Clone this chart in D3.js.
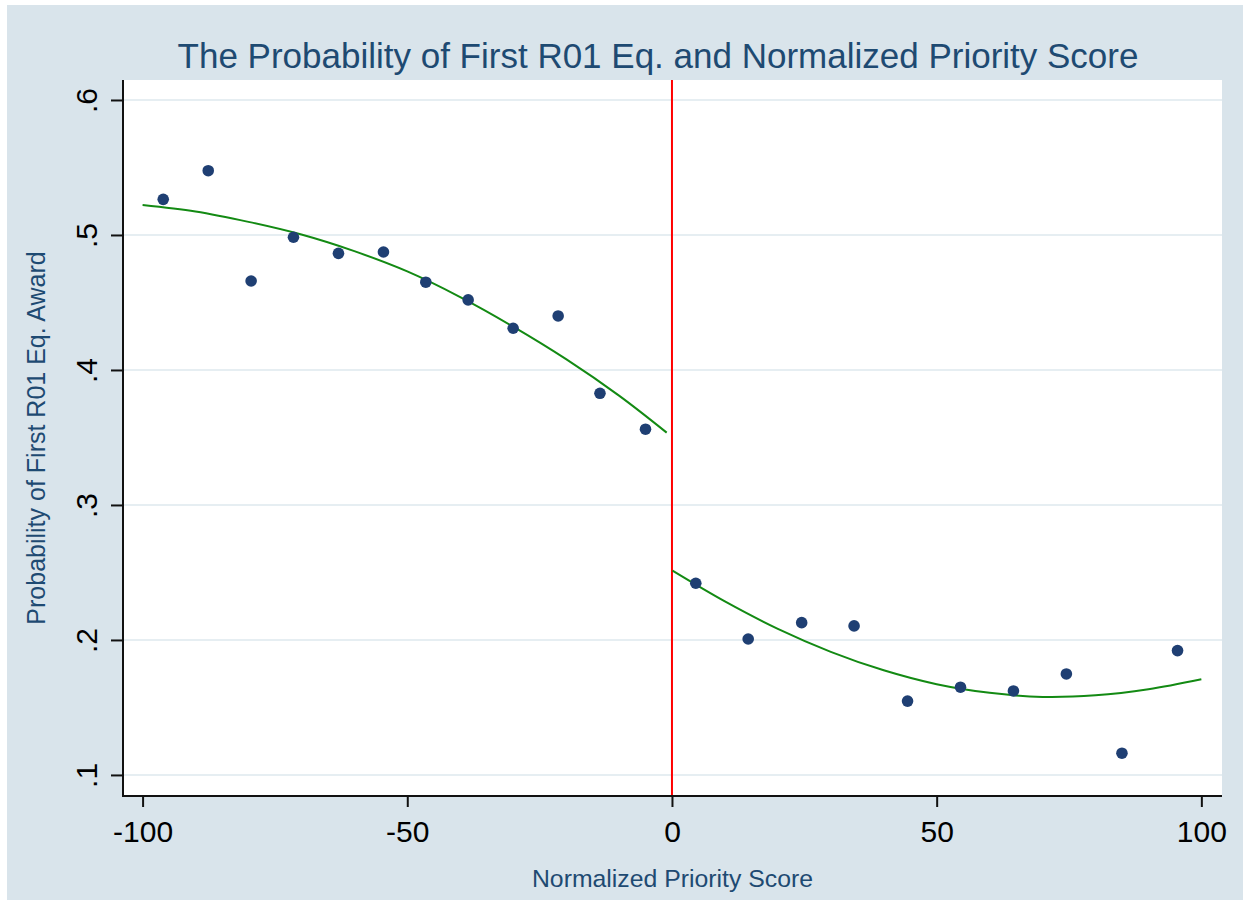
<!DOCTYPE html>
<html>
<head>
<meta charset="utf-8">
<script src="https://cdn.jsdelivr.net/npm/d3@7/dist/d3.min.js"></script>
<style>
html,body{margin:0;padding:0;background:#fff;}
svg{display:block;font-family:"Liberation Sans",Arial,sans-serif;}
</style>
</head>
<body>
<svg id="chart" width="1249" height="907"></svg>
<script>
// ---- data ----
const scoreX = [-96.1,-87.6,-79.5,-71.5,-63.0,-54.5,-46.5,-38.5,-30.0,-21.5,-13.6,-5.0,
                4.5,14.4,24.5,34.4,44.5,54.5,64.5,74.5,85.0,95.5];
const probY  = [0.5264,0.5476,0.4659,0.4983,0.4864,0.4874,0.4650,0.4519,0.4309,0.4400,0.3827,0.3561,
                0.2420,0.2007,0.2128,0.2104,0.1547,0.1650,0.1622,0.1748,0.1161,0.1921];
const fitLeftX  = [-100,-90,-80,-70,-60,-50,-40,-30,-20,-10,-1.0];
const fitLeftY  = [0.5222,0.5174,0.5097,0.5003,0.4880,0.4730,0.4540,0.4321,0.4080,0.3810,0.3536];
const fitRightX = [0.1,10,20,30,40,50,60,70,80,90,100];
const fitRightY = [0.2513,0.2285,0.2082,0.1912,0.1775,0.1672,0.1608,0.1578,0.1590,0.1635,0.1709];
const xTicks = [-100,-50,0,50,100];
const yTicks = [0.1,0.2,0.3,0.4,0.5,0.6];
const cutoff = 0;
const titleText = "The Probability of First R01 Eq. and Normalized Priority Score";
const xTitle = "Normalized Priority Score";
const yTitle = "Probability of First R01 Eq. Award";

const svg = d3.select("#chart");
const L = 123, R = 1222, T = 80, B = 796;

// outer graph region
svg.append("rect").attr("x",7).attr("y",5).attr("width",1236).attr("height",895).attr("fill","#d9e4eb");
// plot region
svg.append("rect").attr("x",L).attr("y",T).attr("width",R-L).attr("height",B-T).attr("fill","#ffffff");

const x = d3.scaleLinear().domain([-103.7,103.9]).range([L,R]);
const y = d3.scaleLinear().domain([0.0844,0.6148]).range([B,T]);

// gridlines
svg.append("g").selectAll("line").data(yTicks).join("line")
  .attr("x1",L).attr("x2",R).attr("y1",d=>y(d)).attr("y2",d=>y(d))
  .attr("stroke","#e6eef2").attr("stroke-width",2);

// cutoff line
svg.append("line").attr("x1",x(cutoff)).attr("x2",x(cutoff)).attr("y1",T).attr("y2",B)
  .attr("stroke","#ff0000").attr("stroke-width",2);

// fit lines
const line = d3.line().x(d=>x(d[0])).y(d=>y(d[1])).curve(d3.curveCatmullRom);
svg.append("path").datum(fitLeftX.map((v,i)=>[v,fitLeftY[i]]))
  .attr("d",line).attr("fill","none").attr("stroke","#138a13").attr("stroke-width",2);
svg.append("path").datum(fitRightX.map((v,i)=>[v,fitRightY[i]]))
  .attr("d",line).attr("fill","none").attr("stroke","#138a13").attr("stroke-width",2);

// points
svg.append("g").selectAll("circle").data(scoreX.map((v,i)=>[v,probY[i]])).join("circle")
  .attr("cx",d=>x(d[0])).attr("cy",d=>y(d[1])).attr("r",5.8).attr("fill","#1f3f73");

// axes
const fmtY = d => d3.format(".1f")(d).replace(/^0/,"");
const gy = svg.append("g").attr("transform",`translate(${L},0)`)
  .call(d3.axisLeft(y).tickValues(yTicks).tickFormat(fmtY).tickSize(12).tickSizeOuter(0));
gy.select(".domain").attr("stroke","#111").attr("stroke-width",2).attr("d",`M0,${T}V${B+1}`);
gy.selectAll(".tick line").attr("stroke","#111").attr("stroke-width",2);
gy.selectAll(".tick text").attr("x",null).attr("dy",null)
  .attr("transform","translate(-26,0) rotate(-90)").attr("text-anchor","middle")
  .attr("font-size",30).attr("fill","#000").attr("font-family","Liberation Sans, Arial, sans-serif");

const gx = svg.append("g").attr("transform",`translate(0,${B})`)
  .call(d3.axisBottom(x).tickValues(xTicks).tickFormat(d3.format("d")).tickSize(11).tickSizeOuter(0));
gx.select(".domain").attr("stroke","#111").attr("stroke-width",2).attr("d",`M${L-1},0H${R}`);
gx.selectAll(".tick line").attr("stroke","#111").attr("stroke-width",2);
gx.selectAll(".tick text").attr("y",46).attr("dy",null)
  .attr("font-size",30).attr("fill","#000").attr("font-family","Liberation Sans, Arial, sans-serif")
  .text(d=>d3.format("d")(d).replace("−","-"));

// titles
svg.append("text").attr("x",658).attr("y",68).attr("text-anchor","middle")
  .attr("font-size",35).attr("fill","#1e4a72").text(titleText);
svg.append("text").attr("x",(L+R)/2).attr("y",887).attr("text-anchor","middle")
  .attr("font-size",24.8).attr("fill","#1e4a72").text(xTitle);
svg.append("text").attr("transform",`translate(45,${(T+B)/2}) rotate(-90)`).attr("text-anchor","middle")
  .attr("font-size",25).attr("fill","#1e4a72").text(yTitle);
</script>
</body>
</html>
